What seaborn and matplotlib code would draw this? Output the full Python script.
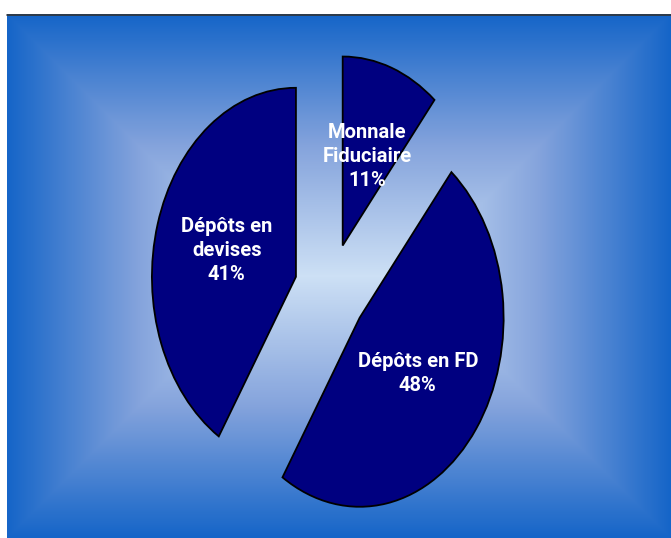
import numpy as np
import matplotlib
matplotlib.use("Agg")
import matplotlib.pyplot as plt
from matplotlib.colors import LinearSegmentedColormap
import seaborn as sns

# Composition of the money supply (shares in %)
categories = ["Monnale\nFiduciaire", "Dépôts en FD", "Dépôts en\ndevises"]
shares = [11, 48, 41]

sns.set_style("white")
plt.rcParams["font.family"] = ["Roboto", "Liberation Sans", "DejaVu Sans"]

W_PX, H_PX = 671, 538
fig = plt.figure(figsize=(W_PX / 100, H_PX / 100), dpi=100)
fig.patch.set_facecolor("white")

# Panel occupying the figure below a small white margin
left_px, top_px = 7, 14
pw, ph = W_PX - left_px, H_PX - top_px
rect = [left_px / W_PX, 0, pw / W_PX, ph / H_PX]

# Rectangular "from centre" gradient background
bg = fig.add_axes(rect)
xs = np.arange(pw) + 0.5
ys = np.arange(ph) + 0.5
X, Y = np.meshgrid(xs, ys)
d = np.minimum(np.minimum(X, pw - X), np.minimum(Y, ph - Y))
t = np.clip(d / (ph / 2), 0, 1)
grad = LinearSegmentedColormap.from_list(
    "panel", [(0.0, "#1565c8"), (0.5, "#84a3dc"), (1.0, "#cde0f5")]
)
bg.imshow(t, cmap=grad, vmin=0, vmax=1, aspect="auto", interpolation="bilinear",
          extent=(0, pw, ph, 0))
bg.set_xlim(0, pw)
bg.set_ylim(ph, 0)
bg.set_axis_off()
bg.plot([0, pw], [0.5, 0.5], color="#333333", lw=1.2, clip_on=False)

# Exploded pie drawn on a transparent axes stretched vertically
ax = fig.add_axes(rect)
ax.patch.set_alpha(0)
labels = [f"{c}\n{s}%" for c, s in zip(categories, shares)]
ax.pie(
    shares,
    labels=labels,
    explode=[0.25] * len(shares),
    startangle=90,
    counterclock=False,
    colors=sns.color_palette(["#000080"] * len(shares)),
    wedgeprops=dict(edgecolor="black", linewidth=1.3),
    labeldistance=0.5,
    textprops=dict(color="white", fontsize=14.5, fontweight="bold",
                   ha="center", va="center", linespacing=1.35),
)
ax.set_aspect("auto")
rx_px, ry_px = 144, 189
cx_px, cy_px = 330.5, 290
ax.set_xlim((left_px - cx_px) / rx_px, (W_PX - cx_px) / rx_px)
ax.set_ylim(-(H_PX - cy_px) / ry_px, (cy_px - top_px) / ry_px)
ax.set_axis_off()

fig.savefig("out.png", dpi=100, facecolor=fig.get_facecolor())
